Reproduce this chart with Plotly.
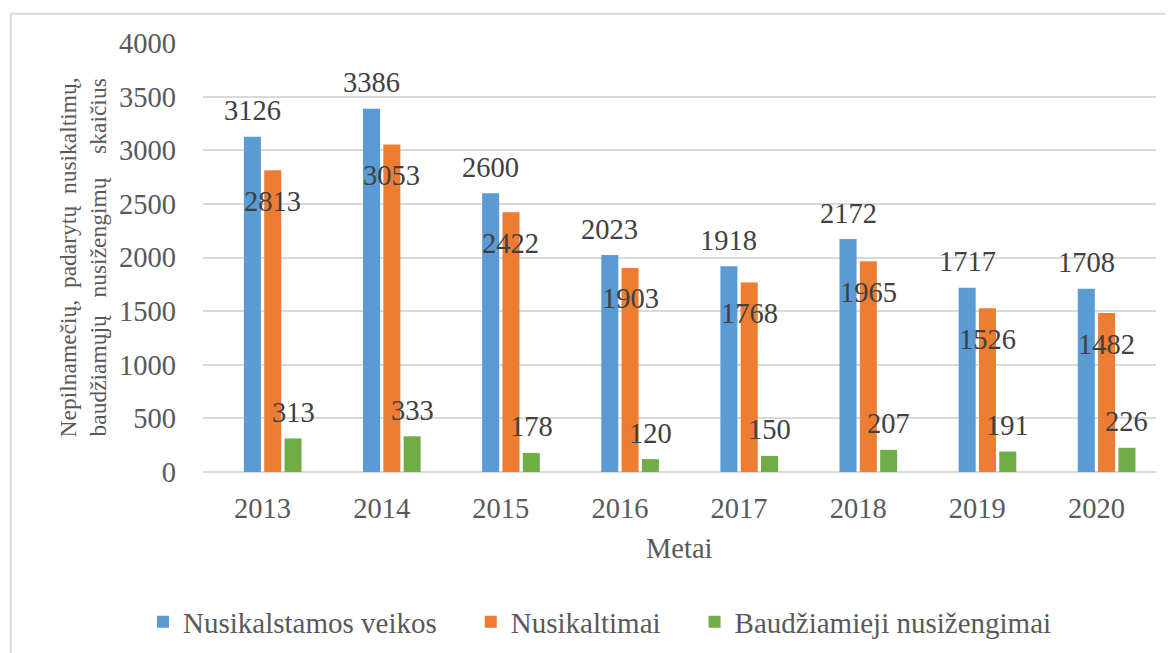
import plotly.graph_objects as go

years = ["2013", "2014", "2015", "2016", "2017", "2018", "2019", "2020"]
veikos = [3126, 3386, 2600, 2023, 1918, 2172, 1717, 1708]
nusikaltimai = [2813, 3053, 2422, 1903, 1768, 1965, 1526, 1482]
nusizengimai = [313, 333, 178, 120, 150, 207, 191, 226]

nb = "\u00a0"
series = [
    ("Nusikalstamos veikos" + nb * 4, veikos, "#5B9BD5", 26),
    ("Nusikaltimai" + nb * 4, nusikaltimai, "#ED7D31", -31),
    ("Baudžiamieji nusižengimai", nusizengimai, "#70AD47", 26),
]

FONT = "Liberation Serif, Times New Roman, serif"
FS = 28.5
idx = list(range(len(years)))

# page offset (body margin) compensation: figure coords = screen - 8
PL, PW, PT, PH = 195, 953, 35, 429
W, H = 1173, 653

bar_w = 0.143
slot = 0.1705
offsets = [-2 * slot + i * slot + (slot - bar_w) / 2 for i in range(1, 4)]

fig = go.Figure()
annotations = []
for (name, vals, color, ysh), off in zip(series, offsets):
    fig.add_trace(go.Bar(
        x=idx, y=vals, name=name, width=bar_w, offset=off,
        marker=dict(color=color, line=dict(width=0)),
    ))
    for i, v in zip(idx, vals):
        annotations.append(dict(
            x=i + off + bar_w / 2, y=v, xref="x", yref="y", text=str(v),
            showarrow=False, yshift=ysh, xanchor="center", yanchor="middle",
            font=dict(family=FONT, size=FS, color="#404040"),
        ))

line1 = f"Nepilnamečių,{nb*2}padarytų{nb*2}nusikaltimų,"
line2 = f"baudžiamųjų{nb*3}nusižengimų{nb*4}skaičius"
annotations.append(dict(
    x=(75 - PL) / PW, y=0.5, xref="paper", yref="paper", text=line1 + "<br>" + line2,
    showarrow=False, textangle=-90, xanchor="center", yanchor="middle",
    font=dict(family=FONT, size=23.5, color="#595959"),
))
annotations.append(dict(
    x=0.5, y=-76 / PH, xref="paper", yref="paper", text="Metai",
    showarrow=False, xanchor="center", yanchor="middle",
    font=dict(family=FONT, size=FS, color="#595959"),
))

fig.update_layout(
    width=W, height=H,
    margin=dict(l=PL, r=W - PL - PW, t=PT, b=H - PT - PH),
    paper_bgcolor="white", plot_bgcolor="white",
    barmode="overlay",
    font=dict(family=FONT, size=FS, color="#595959"),
    showlegend=True,
    legend=dict(orientation="h", x=(135 - PL) / PW, xanchor="left",
                y=-(614 - PT - PH) / PH, yanchor="middle",
                font=dict(family=FONT, size=29, color="#595959"),
                itemwidth=30, tracegroupgap=0),
    annotations=annotations,
    shapes=[dict(type="rect", xref="paper", yref="paper",
                 x0=(2.7 - PL) / PW, x1=(1190 - PL) / PW,
                 y0=-(700 - PT - PH) / PH, y1=(PT + PH - 5.7) / PH,
                 line=dict(color="#d9d9d9", width=2), fillcolor="rgba(0,0,0,0)",
                 layer="below")],
)
fig.update_xaxes(
    tickvals=idx, ticktext=years, range=[-0.5, len(years) - 0.5],
    showgrid=False, zeroline=False, showline=False, ticks="",
    ticklabelstandoff=16,
    tickfont=dict(family=FONT, size=FS, color="#595959"),
)
fig.update_yaxes(
    range=[0, 4000], dtick=500, showgrid=True, gridcolor="#d9d9d9", gridwidth=1.5,
    zeroline=True, zerolinecolor="#d9d9d9", zerolinewidth=1.5, showline=False, ticks="",
    ticklabelstandoff=26,
    tickfont=dict(family=FONT, size=FS, color="#595959"),
)

fig.write_html("out.html")
